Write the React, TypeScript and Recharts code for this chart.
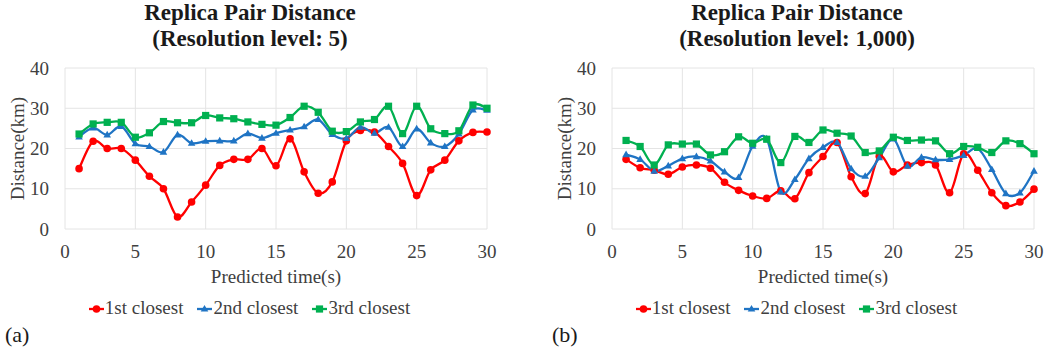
import React from 'react';
import { LineChart, Line, XAxis, YAxis, CartesianGrid, Label } from 'recharts';

const time = [1, 2, 3, 4, 5, 6, 7, 8, 9, 10, 11, 12, 13, 14, 15, 16, 17, 18, 19, 20, 21, 22, 23, 24, 25, 26, 27, 28, 29, 30];
const ticksX = [0, 5, 10, 15, 20, 25, 30];
const ticksY = [0, 10, 20, 30, 40];
const seriesNames = ['1st closest', '2nd closest', '3rd closest'];

const aFirst = [15.0, 21.8, 20.0, 20.0, 17.1, 13.1, 10.0, 3.0, 6.7, 10.9, 15.8, 17.3, 17.3, 20.0, 15.7, 22.4, 14.2, 8.9, 11.7, 21.9, 24.5, 24.1, 20.5, 16.3, 8.3, 14.7, 17.1, 21.9, 24.0, 24.1];
const aSecond = [22.9, 25.1, 23.4, 25.5, 21.2, 20.5, 19.1, 23.4, 21.3, 21.8, 21.9, 21.9, 23.7, 22.6, 23.8, 24.6, 25.4, 27.2, 23.5, 22.5, 25.3, 23.8, 25.3, 20.5, 24.9, 21.4, 20.5, 23.6, 29.6, 29.5];
const aThird = [23.6, 26.1, 26.5, 26.5, 22.8, 23.9, 26.7, 26.4, 26.4, 28.2, 27.6, 27.4, 26.6, 26.0, 25.8, 27.7, 30.5, 29.0, 24.3, 24.2, 26.6, 27.2, 30.5, 23.7, 30.5, 24.9, 23.7, 24.4, 30.8, 30.0];

const bFirst = [17.3, 15.2, 14.6, 13.6, 15.4, 15.9, 15.1, 11.6, 9.6, 8.2, 7.6, 9.5, 7.5, 14.0, 18.0, 21.5, 13.0, 8.8, 18.1, 14.2, 15.9, 16.5, 15.9, 9.0, 18.7, 14.6, 9.0, 5.8, 6.7, 9.9];
const bSecond = [18.5, 17.3, 14.4, 15.7, 17.5, 18.0, 16.9, 14.2, 12.8, 20.6, 22.4, 9.2, 12.3, 17.5, 20.3, 21.5, 15.0, 13.1, 17.7, 22.4, 15.6, 17.8, 17.2, 17.3, 18.3, 20.0, 14.8, 8.8, 9.0, 14.4];
const bThird = [22.0, 20.5, 15.9, 20.9, 21.1, 21.1, 18.4, 19.2, 22.9, 21.3, 22.3, 16.5, 23.0, 21.5, 24.6, 23.8, 23.1, 19.0, 19.4, 22.8, 22.0, 22.1, 21.9, 18.7, 20.5, 20.3, 19.0, 21.9, 21.2, 18.7];

const titleA = ['Replica Pair Distance', '(Resolution level: 5)'];
const titleB = ['Replica Pair Distance', '(Resolution level: 1,000)'];

const RED = '#FF0000';
const BLUE = '#1F74C4';
const GREEN = '#00B050';
const COLORS = [RED, BLUE, GREEN];
const FONT = '"Liberation Serif", "Times New Roman", Times, serif';
const TEXT = '#404040';

// Excel-like smoothed line (Catmull-Rom style Bezier through the points)
function smoothCurve(context: any) {
  let pts: number[][] = [];
  return {
    areaStart() {},
    areaEnd() {},
    lineStart() {
      pts = [];
    },
    point(x: number, y: number) {
      pts.push([+x, +y]);
    },
    lineEnd() {
      const n = pts.length;
      if (!n) return;
      context.moveTo(pts[0][0], pts[0][1]);
      for (let i = 0; i < n - 1; i++) {
        const p0 = pts[i - 1] || pts[i];
        const p1 = pts[i];
        const p2 = pts[i + 1];
        const p3 = pts[i + 2] || p2;
        context.bezierCurveTo(
          p1[0] + (p2[0] - p0[0]) / 6,
          p1[1] + (p2[1] - p0[1]) / 6,
          p2[0] - (p3[0] - p1[0]) / 6,
          p2[1] - (p3[1] - p1[1]) / 6,
          p2[0],
          p2[1]
        );
      }
    },
  };
}

const marker = (kind: number, cx: number, cy: number, key?: any) => {
  if (kind === 0) return <circle key={key} cx={cx} cy={cy} r={3.8} fill={RED} />;
  if (kind === 1)
    return (
      <polygon
        key={key}
        points={`${cx},${cy - 4} ${cx + 3.8},${cy + 2.6} ${cx - 3.8},${cy + 2.6}`}
        fill={BLUE}
      />
    );
  return <rect key={key} x={cx - 3.6} y={cy - 3.6} width={7.2} height={7.2} fill={GREEN} />;
};

const makeDot = (kind: number) => (p: any) => {
  if (p.cx == null || p.cy == null) return <g key={p.index} />;
  return marker(kind, p.cx, p.cy, p.index);
};

const YTitle = (props: any) => {
  const vb = props.viewBox || { x: 0, y: 0, width: 0, height: 0 };
  const cx = vb.x + 17.5;
  const cy = vb.y + vb.height / 2;
  return (
    <text
      x={cx}
      y={cy}
      transform={`rotate(-90 ${cx} ${cy})`}
      textAnchor="middle"
      dominantBaseline="central"
      fontSize={19}
      fill={TEXT}
      fontFamily={FONT}
    >
      Distance(km)
    </text>
  );
};

type PanelProps = {
  left: number;
  title: string[];
  first: number[];
  second: number[];
  third: number[];
  tag: string;
};

const Panel = ({ left, title, first, second, third, tag }: PanelProps) => {
  const rows = time.map((t, i) => ({ t, s0: first[i], s1: second[i], s2: third[i] }));
  const keys = ['s0', 's1', 's2'];
  return (
    <div style={{ position: 'absolute', left, top: 0, width: 500, height: 354 }}>
      <div
        style={{
          position: 'absolute',
          left: 0,
          top: 0,
          width: 500,
          textAlign: 'center',
          fontFamily: FONT,
          fontWeight: 'bold',
          fontSize: 23,
          lineHeight: '26px',
          color: '#1a1a1a',
        }}
      >
        <div>{title[0]}</div>
        <div>{title[1]}</div>
      </div>
      <div style={{ position: 'absolute', left: 0, top: 0 }}>
        <LineChart
          width={500}
          height={354}
          data={rows}
          margin={{ top: 68, right: 13, bottom: 71, left: 0 }}
          style={{ fontFamily: FONT }}
        >
          <CartesianGrid stroke="#e4e4e4" strokeWidth={1} />
          <XAxis
            dataKey="t"
            type="number"
            domain={[0, 30]}
            ticks={ticksX}
            interval={0}
            axisLine={false}
            tickLine={false}
            tickSize={0}
            tickMargin={16}
            height={54}
            tick={{ fontSize: 19, fill: TEXT, fontFamily: FONT }}
          >
            <Label value="Predicted time(s)" position="insideBottom" offset={0} fontSize={19} fill={TEXT} fontFamily={FONT} />
          </XAxis>
          <YAxis
            type="number"
            domain={[0, 40]}
            ticks={ticksY}
            interval={0}
            axisLine={false}
            tickLine={false}
            tickSize={0}
            tickMargin={16}
            width={65}
            tick={{ fontSize: 19, fill: TEXT, fontFamily: FONT }}
          >
            <Label content={<YTitle />} />
          </YAxis>
          {keys.map((k, i) => (
            <Line
              key={k}
              dataKey={k}
              name={seriesNames[i]}
              type={smoothCurve as any}
              stroke={COLORS[i]}
              strokeWidth={2.3}
              dot={makeDot(i)}
              activeDot={false}
              isAnimationActive={false}
            />
          ))}
        </LineChart>
      </div>
      <div
        style={{
          position: 'absolute',
          left: 0,
          top: 298,
          width: 499,
          display: 'flex',
          justifyContent: 'center',
          fontFamily: FONT,
          fontSize: 19,
          lineHeight: '19px',
          color: TEXT,
        }}
      >
        {seriesNames.map((n, i) => (
          <div key={n} style={{ display: 'flex', alignItems: 'center', marginLeft: i ? 14 : 0 }}>
            <svg width={15} height={12} style={{ display: 'block', marginTop: 2 }}>
              <line x1={0} y1={6} x2={15} y2={6} stroke={COLORS[i]} strokeWidth={2.3} />
              {marker(i, 7.5, 6)}
            </svg>
            <span style={{ marginLeft: 1, whiteSpace: 'nowrap' }}>{n}</span>
          </div>
        ))}
      </div>
      <div
        style={{
          position: 'absolute',
          left: 5,
          top: 324,
          fontFamily: FONT,
          fontSize: 22,
          lineHeight: '22px',
          color: '#1a1a1a',
        }}
      >
        {tag}
      </div>
    </div>
  );
};

export default function App() {
  return (
    <div
      style={{
        position: 'absolute',
        left: 0,
        top: 0,
        width: 1047,
        height: 354,
        overflow: 'hidden',
        background: '#fff',
      }}
    >
      <Panel left={0} title={titleA} first={aFirst} second={aSecond} third={aThird} tag="(a)" />
      <Panel left={547} title={titleB} first={bFirst} second={bSecond} third={bThird} tag="(b)" />
    </div>
  );
}
